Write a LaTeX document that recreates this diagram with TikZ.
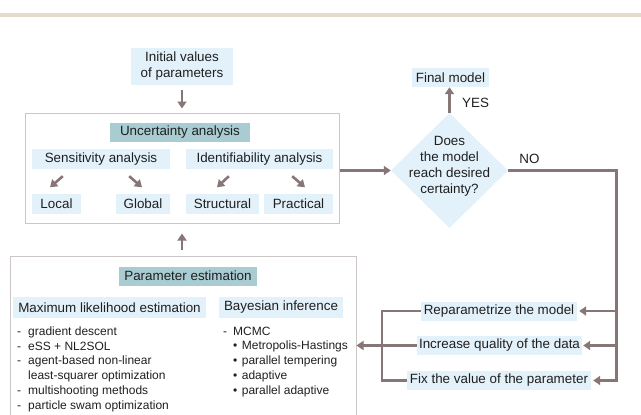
\documentclass[tikz,border=0pt]{standalone}
\usepackage{fontspec}
\setmainfont{Liberation Sans}
\usepackage{xcolor}
\usetikzlibrary{arrows.meta,shapes.geometric}

\definecolor{paleblue}{HTML}{E3F1FA}
\definecolor{headteal}{HTML}{A8CCD2}
\definecolor{flowgray}{HTML}{867676}
\definecolor{framegray}{HTML}{CCC6C6}
\definecolor{topbeige}{HTML}{E4DCCA}
\definecolor{inkgray}{HTML}{1F1F1F}

\begin{document}
\begin{tikzpicture}[x=1pt,y=-1pt]
\tikzset{every node/.style={text=inkgray,font=\fontsize{13.4}{16}\selectfont}}
\tikzset{pale/.style={fill=paleblue,inner sep=0pt,minimum height=20pt}}
\tikzset{head/.style={fill=headteal,inner sep=0pt,minimum height=19pt}}
\tikzset{frame/.style={draw=framegray,line width=1pt,inner sep=0pt}}
\tikzset{flow/.style={draw=flowgray,line width=2.6pt}}
\tikzset{flowarrow/.style={flow,-{Triangle[length=7pt,width=9pt]}}}
\tikzset{listtext/.style={font=\fontsize{12}{14.8}\selectfont,align=left,inner sep=0pt,anchor=north west}}

\clip (0,0) rectangle (641,415);
\fill[topbeige] (0,12.7) rectangle (641,16.7);

\node[pale,align=center,minimum width=102pt,minimum height=37pt] (initial) at (182,66.5) {Initial values\\of parameters};

\node[frame,minimum width=314pt,minimum height=110pt] (uncframe) at (182,168) {};
\node[head,minimum width=140pt] (unchead) at (180,132) {Uncertainty analysis};
\node[pale,minimum width=138pt] (sens) at (101,159) {Sensitivity analysis};
\node[pale,minimum width=147pt] (ident) at (259.5,159) {Identifiability analysis};
\node[pale,minimum width=49pt] (local) at (56.5,203.5) {Local};
\node[pale,minimum width=54pt] (global) at (143,203.5) {Global};
\node[pale,minimum width=73pt] (struct) at (222.5,203.5) {Structural};
\node[pale,minimum width=69pt] (pract) at (298.5,203.5) {Practical};

\node[diamond,fill=paleblue,minimum width=117pt,minimum height=115pt,inner sep=0pt] (check) at (449.5,170.5) {};
\node[align=center,inner sep=0pt] (checktext) at ([yshift=4pt]check.center) {Does\\the model\\reach desired\\certainty?};
\node[pale,minimum width=77pt,minimum height=19pt] (final) at (450.5,77.5) {Final model};
\node[anchor=west,inner sep=0pt] (yes) at (462,103) {YES};
\node[inner sep=0pt] (no) at (529.5,159) {NO};

\node[frame,minimum width=346pt,minimum height=170pt] (estframe) at (183,341) {};
\node[head,minimum width=138pt] (esthead) at (188,276) {Parameter estimation};
\node[pale,minimum width=193pt,minimum height=21pt] (mle) at (109.5,307.5) {Maximum likelihood estimation};
\node[pale,minimum width=124pt,minimum height=21pt] (bayes) at (281,307.5) {Bayesian inference};
\node[listtext] (mlelist) at (17,326.5) {-\hspace{7pt}gradient descent\\-\hspace{7pt}eSS + NL2SOL\\-\hspace{7pt}agent-based non-linear\\\hspace*{11pt}least-squarer optimization\\-\hspace{7pt}multishooting methods\\-\hspace{7pt}particle swam optimization};
\node[listtext] (bayeslist) at (223,326.5) {-\hspace{6pt}MCMC\\\hspace*{10pt}•\hspace{4.5pt}Metropolis-Hastings\\\hspace*{10pt}•\hspace{4.5pt}parallel tempering\\\hspace*{10pt}•\hspace{4.5pt}adaptive\\\hspace*{10pt}•\hspace{4.5pt}parallel adaptive};

\node[pale,minimum width=156pt,minimum height=19pt] (reparam) at (499,311) {Reparametrize the model};
\node[pale,minimum width=165pt,minimum height=19pt] (quality) at (499.5,345.5) {Increase quality of the data};
\node[pale,minimum width=184pt,minimum height=19pt] (fixval) at (499,380.5) {Fix the value of the parameter};

\draw[flowarrow,shorten <=5pt,shorten >=4pt] (initial.south) -- (uncframe.north);
\draw[flowarrow,shorten <=6pt,shorten >=10pt] (uncframe.south |- estframe.north) -- (uncframe.south);
\draw[flowarrow] ([xshift=31pt,yshift=-7pt]sens.south west) -- ([xshift=-6.5pt,yshift=6pt]local.north);
\draw[flowarrow] ([xshift=-41pt,yshift=-7pt]sens.south east) -- ([xshift=-1pt,yshift=6pt]global.north);
\draw[flowarrow] ([xshift=43pt,yshift=-7pt]ident.south west) -- ([xshift=-5.5pt,yshift=6pt]struct.north);
\draw[flowarrow] ([xshift=-41pt,yshift=-7pt]ident.south east) -- ([xshift=6.5pt,yshift=6pt]pract.north);

\draw[flowarrow] (uncframe.east |- check.west) -- (check.west);
\draw[flowarrow] (check.north) -- (check.north |- final.south);

\coordinate (nocorner) at ([xshift=25pt]fixval.east);
\draw[flowarrow,shorten >=2pt] (check.east) -| (nocorner) -- (fixval.east);
\draw[flowarrow,shorten >=2pt] (reparam.east -| nocorner) -- (reparam.east);
\draw[flowarrow,shorten >=1pt] (quality.east -| nocorner) -- (quality.east);

\coordinate (leftjoin) at ([xshift=-39pt]reparam.west);
\draw[flow] (reparam.west) -- (leftjoin) |- (fixval.west);
\draw[flowarrow] (quality.west) -- (quality.west -| estframe.east);

\end{tikzpicture}
\end{document}
